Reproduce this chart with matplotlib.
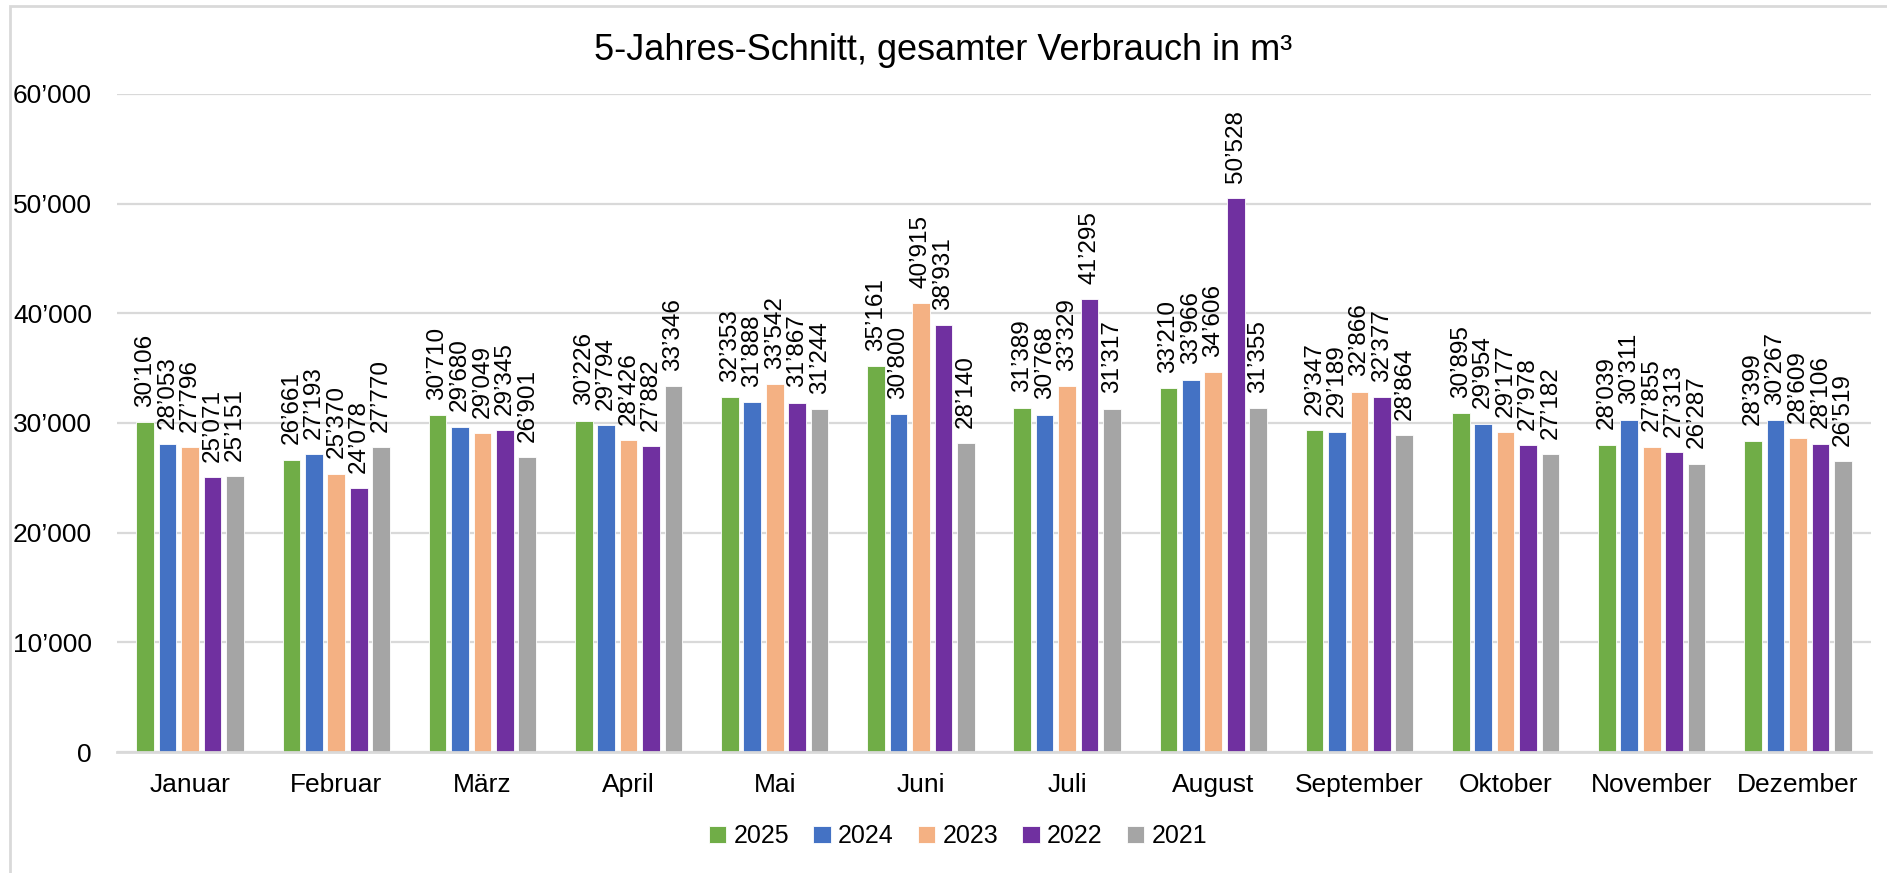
import matplotlib
matplotlib.use("Agg")
import matplotlib.pyplot as plt
import numpy as np
from matplotlib.patches import Rectangle

plt.rcParams['font.family'] = ['Liberation Sans', 'DejaVu Sans']

months = ["Januar", "Februar", "März", "April", "Mai", "Juni", "Juli",
          "August", "September", "Oktober", "November", "Dezember"]
years = ["2025", "2024", "2023", "2022", "2021"]
colors = ["#70AD47", "#4472C4", "#F4B183", "#7030A0", "#A5A5A5"]

v2025 = [30106, 26661, 30710, 30226, 32353, 35161, 31389, 33210, 29347, 30895, 28039, 28399]
v2024 = [28053, 27193, 29680, 29794, 31888, 30800, 30768, 33966, 29189, 29954, 30311, 30267]
v2023 = [27796, 25370, 29049, 28426, 33542, 40915, 33329, 34606, 32866, 29177, 27855, 28609]
v2022 = [25071, 24078, 29345, 27882, 31867, 38931, 41295, 50528, 32377, 27978, 27313, 28106]
v2021 = [25151, 27770, 26901, 33346, 31244, 28140, 31317, 31355, 28864, 27182, 26287, 26519]
series = [v2025, v2024, v2023, v2022, v2021]


def fmt(v):
    return f"{v:,.0f}".replace(",", "\u2019")


fig = plt.figure(figsize=(18.87, 8.73), dpi=100)
ax = fig.add_axes([117 / 1887, 1 - 752 / 873, (1871 - 117) / 1887, (752 - 94) / 873])

x = np.arange(len(months))
w = 1 / 8.27
pitch = 1.27 * w
for i, (vals, c, yr) in enumerate(zip(series, colors, years)):
    pos = x + (i - 2) * pitch
    bars = ax.bar(pos, vals, width=w, color=c, edgecolor="white", linewidth=0.6, label=yr, zorder=3)
    for b, v in zip(bars, vals):
        ax.annotate(fmt(v), (b.get_x() + b.get_width() / 2, v), xytext=(0, 11),
                    textcoords="offset points", rotation=90, ha="center", va="bottom",
                    fontsize=17.5, color="black")

ax.set_xlim(-0.5, len(months) - 0.5)
ax.set_ylim(0, 60000)
ax.set_yticks(np.arange(0, 60001, 10000))
ax.set_yticklabels([fmt(t) for t in np.arange(0, 60001, 10000)], fontsize=19)
ax.set_xticks(x)
ax.set_xticklabels(months, fontsize=19)
ax.tick_params(axis="both", length=0)
ax.tick_params(axis="x", pad=15)
ax.tick_params(axis="y", pad=18)
ax.grid(axis="y", color="#D9D9D9", linewidth=1.6, zorder=0)
for s in ["left", "right", "top"]:
    ax.spines[s].set_visible(False)
ax.spines["bottom"].set_color("#D9D9D9")
ax.spines["bottom"].set_linewidth(2)
ax.spines["bottom"].set_zorder(4)

fig.text(0.5, 1 - 51 / 873, "5-Jahres-Schnitt, gesamter Verbrauch in m\u00b3",
         ha="center", va="center", fontsize=26)

fig.legend(loc="center", bbox_to_anchor=(958 / 1887, 1 - 836 / 873), ncol=5,
           frameon=False, fontsize=18, handlelength=0.7, handleheight=0.7,
           handletextpad=0.3, columnspacing=0.95)

# chart border
fig.patches.append(Rectangle((10 / 1887, -0.1), 1.2, 0.1 + (873 - 6) / 873,
                             transform=fig.transFigure, fill=False,
                             edgecolor="#D9D9D9", linewidth=2))

fig.savefig("out.png", dpi=100)
plt.close(fig)
